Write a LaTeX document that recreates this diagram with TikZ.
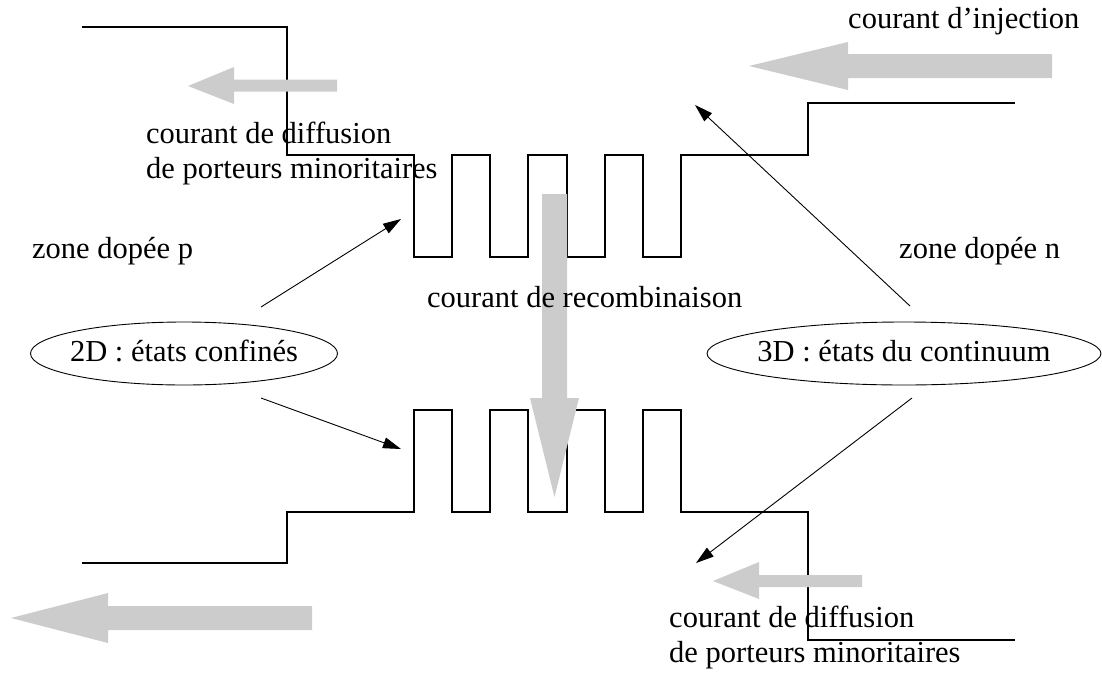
\documentclass[tikz,border=0pt]{standalone}
\usepackage{fontspec}
\setmainfont{Liberation Serif}
\usetikzlibrary{arrows.meta,shapes.geometric}
\definecolor{flow}{gray}{0.8}
\begin{document}
\begin{tikzpicture}[x=1pt,y=-1pt,
  band/.style={line width=1.2pt,line join=miter},
  ptr/.style={line width=0.9pt,-{Triangle[length=18pt,width=11pt]}},
  flowarrow/.style={fill=flow,draw=none},
  lbl/.style={anchor=base west,inner sep=0pt,font=\fontsize{30.5}{35}\selectfont},
  state/.style={draw,ellipse,line width=0.9pt,inner xsep=-15pt,inner ysep=0pt,
    font=\fontsize{30.5}{35}\selectfont,text height=22pt,text depth=7pt}]
\useasboundingbox (0,0) rectangle (1102,675);
% conduction band
\draw[band] (82,27) -- (287,27) -- (287,155) -- (414,155) -- (414,257) -- (452,257)
  -- (452,155) -- (490,155) -- (490,257) -- (528,257) -- (528,155) -- (567,155)
  -- (567,257) -- (605,257) -- (605,155) -- (643,155) -- (643,257) -- (681,257)
  -- (681,155) -- (808,155) -- (808,103) -- (1015,103);
% valence band
\draw[band] (82,563) -- (287,563) -- (287,512) -- (414,512) -- (414,410) -- (452,410)
  -- (452,512) -- (490,512) -- (490,410) -- (528,410) -- (528,512) -- (567,512)
  -- (567,410) -- (605,410) -- (605,512) -- (643,512) -- (643,410) -- (681,410)
  -- (681,512) -- (808,512) -- (808,640) -- (1015,640);
% grey current arrows
\fill[flowarrow] (188,86) -- (234,67) -- (234,79.5) -- (337,79.5) -- (337,91.5) -- (234,91.5) -- (234,104) -- cycle;
\fill[flowarrow] (749,66) -- (848,42) -- (848,54) -- (1052,54) -- (1052,78) -- (848,78) -- (848,90) -- cycle;
\fill[flowarrow] (11,618) -- (108,593) -- (108,606) -- (312,606) -- (312,630) -- (108,630) -- (108,643) -- cycle;
\fill[flowarrow] (713,581) -- (759,562) -- (759,575) -- (862,575) -- (862,587) -- (759,587) -- (759,599) -- cycle;
\fill[flowarrow] (554.5,497) -- (530,398) -- (542,398) -- (542,194) -- (567,194) -- (567,398) -- (579,398) -- cycle;
% state ellipses
\node[state,minimum width=307pt,minimum height=63pt] (s2d) at (184,353.5) {2D : états confinés};
\node[state,minimum width=394pt,minimum height=63pt] (s3d) at (904,353.5) {3D : états du continuum};
% pointer arrows
\coordinate (a1) at (261,307); \coordinate (a1e) at (401,219);
\coordinate (a2) at (261,398); \coordinate (a2e) at (401,449);
\coordinate (b1) at (910,306); \coordinate (b1e) at (695,105);
\coordinate (b2) at (912,398); \coordinate (b2e) at (696,563);
\draw[ptr] (a1) -- (a1e);
\draw[ptr] (a2) -- (a2e);
\draw[ptr] (b1) -- (b1e);
\draw[ptr] (b2) -- (b2e);
% labels
\node[lbl] (inj) at (848,28) {courant d’injection};
\node[lbl] (dl1) at (146,143) {courant de diffusion};
\node[lbl] (dl2) at (146,178) {de porteurs minoritaires};
\node[lbl] (zp) at (32,258) {zone dopée p};
\node[lbl] (zn) at (899,258) {zone dopée n};
\node[lbl] (rec) at (427,307) {courant de recombinaison};
\node[lbl] (dr1) at (669,627) {courant de diffusion};
\node[lbl] (dr2) at (669,662) {de porteurs minoritaires};
\end{tikzpicture}
\end{document}
